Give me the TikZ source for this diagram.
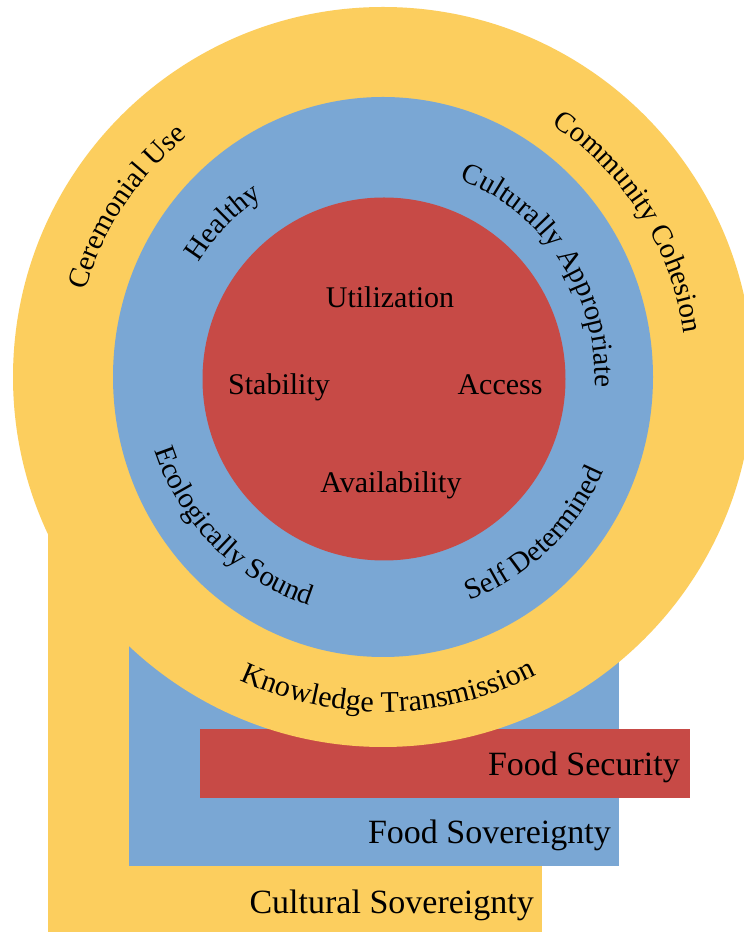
\documentclass[tikz,border=0pt]{standalone}
\usepackage{fontspec}
\setmainfont{Liberation Serif}
\usetikzlibrary{decorations.text}
\definecolor{cyel}{RGB}{252,206,94}
\definecolor{cblu}{RGB}{122,167,212}
\definecolor{cred}{RGB}{199,74,70}
\newcommand{\arcfnt}{\fontsize{29}{34}\selectfont}
\newcommand{\arcfntb}{\fontsize{30}{35}\selectfont}
\begin{document}
\begin{tikzpicture}[x=1pt,y=1pt,
  innerlabel/.style={font=\fontsize{30}{36}\selectfont, inner sep=0pt, anchor=base},
  rectlabel/.style={font=\fontsize{34}{40}\selectfont, inner sep=0pt, anchor=base east},
  arctext/.style={decorate, decoration={text along path, text align=center, text={|\arcfnt|#1}}},
  arctextb/.style={decorate, decoration={text along path, text align=center, text={|\arcfntb|#1}}}
]
\useasboundingbox (0,0) rectangle (744,932);
\clip (0,0) rectangle (744,932);
\fill[white] (0,0) rectangle (744,932);
\coordinate (c) at (383,555);
\coordinate (cc) at (384,553);
% rectangles
\fill[cyel] (48,0) rectangle (542,412);
\fill[cblu] (129,66) rectangle (619,332);
\fill[cred] (200,134) rectangle (690,203);
% circles
\fill[cyel] (c) circle[radius=370pt];
\fill[cblu] (c) ellipse[x radius=270pt, y radius=280pt];
\fill[cred] (cc) circle[radius=181.5pt];
% inner labels
\node[innerlabel] (util) at (390,624) {Utilization};
\node[innerlabel] (stab) at (279,537) {Stability};
\node[innerlabel] (acc) at (500,537) {Access};
\node[innerlabel] (avail) at (391,439) {Availability};
% rectangle labels
\node[rectlabel] (fsec) at (680,156) {Food Security};
\node[rectlabel] (fsov) at (611,88) {Food Sovereignty};
\node[rectlabel] (csov) at (534,19) {Cultural Sovereignty};
% yellow ring texts
\path[arctext=Ceremonial Use] ([shift={(206.5:310pt)}]c) arc[start angle=206.5, end angle=86.5, radius=310pt];
\path[arctext=Community Cohesion] ([shift={(97.2:304pt)}]c) arc[start angle=97.2, end angle=-32.8, radius=304pt];
\path[arctextb=Knowledge Transmission] ([shift={(206:335pt)}]c) arc[start angle=206, end angle=336, radius=335pt];
% blue ring texts
\path[arctext=Healthy] ([shift={(196:217pt)}]c) arc[start angle=196, end angle=76, radius=217pt];
\path[arctext=Culturally Appropriate] ([shift={(108:212pt)}]c) arc[start angle=108, end angle=-42, radius=212pt];
\path[arctext=Ecologically Sound] ([shift={(160:240pt)}]c) arc[start angle=160, end angle=290, radius=240pt];
\path[arctext=Self Determined] ([shift={(249:240pt)}]c) arc[start angle=249, end angle=379, radius=240pt];
\end{tikzpicture}
\end{document}
